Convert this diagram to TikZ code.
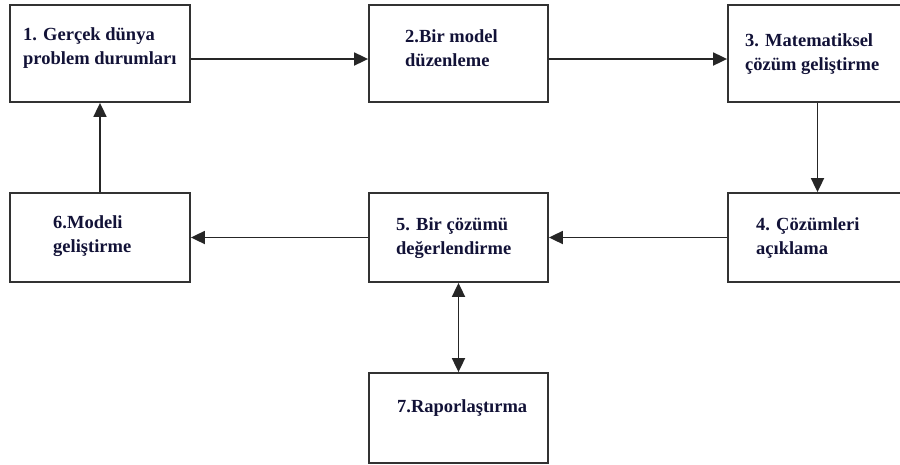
\documentclass[tikz,border=0pt]{standalone}
\usepackage{fontspec}
\setmainfont{Liberation Serif}
\usetikzlibrary{arrows.meta}
\definecolor{txt}{RGB}{18,18,55}
\definecolor{ln}{RGB}{50,50,50}
\begin{document}
\begin{tikzpicture}[x=1pt,y=-1pt,
  box/.style={draw=ln,line width=1.8pt,inner sep=0pt},
  row1/.style={minimum width=179pt,minimum height=97pt},
  row2/.style={minimum width=179pt,minimum height=89pt},
  lbl/.style={anchor=base west,align=left,inner sep=0pt,font=\fontsize{18.5}{23.5}\selectfont\bfseries,text=txt},
  arr/.style={draw=black!85,line width=1.8pt,-{Triangle[length=14pt,width=13pt]}},
  darr/.style={draw=black!85,line width=1.8pt,{Triangle[length=14pt,width=13pt]}-{Triangle[length=14pt,width=13pt]}}]
\useasboundingbox (0,0) rectangle (900,464);
\clip (0,0) rectangle (900,464);
\node[box,row1,minimum width=180pt] (b1) at (100,53.5) {};
\node[box,row1] (b2) at (458.5,53.5) {};
\node[box,row1] (b3) at (817.5,53.5) {};
\node[box,row2] (b4) at (817.5,237.5) {};
\node[box,row2] (b5) at (458.5,237.5) {};
\node[box,row2,minimum width=180pt] (b6) at (100,237.5) {};
\node[box,minimum width=179pt,minimum height=90pt] (b7) at (458.5,418) {};
\node[lbl] (t1) at (23,64) {1. Gerçek dünya\\problem durumları};
\node[lbl] (t2) at (405,66) {2.Bir model\\düzenleme};
\node[lbl] (t3) at (745,70) {3. Matematiksel\\çözüm geliştirme};
\node[lbl] (t4) at (756,254) {4. Çözümleri\\açıklama};
\node[lbl] (t5) at (396,254) {5. Bir çözümü\\değerlendirme};
\node[lbl] (t6) at (53,252) {6.Modeli\\geliştirme};
\node[lbl] (t7) at (397,412) {7.Raporlaştırma};
\draw[arr] ([yshift=-5.5pt]b1.east) -- ([yshift=-5.5pt]b2.west);
\draw[arr] ([yshift=-5.5pt]b2.east) -- ([yshift=-5.5pt]b3.west);
\draw[arr] (b3.south) -- (b4.north);
\draw[arr] (b4.west) -- (b5.east);
\draw[arr] (b5.west) -- (b6.east);
\draw[arr] (b6.north) -- (b1.south);
\draw[darr] (b5.south) -- (b7.north);
\end{tikzpicture}
\end{document}
